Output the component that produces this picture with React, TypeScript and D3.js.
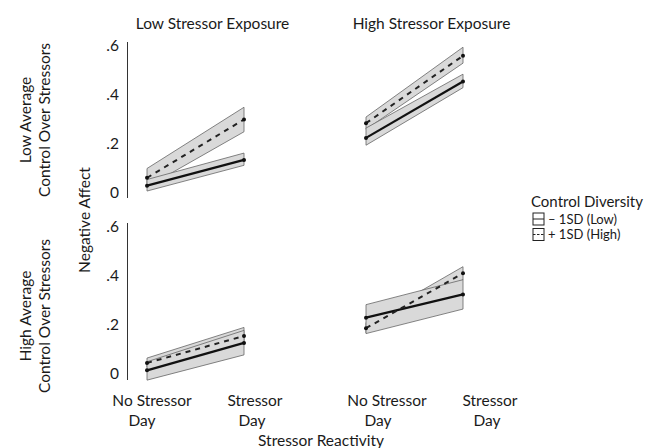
import React from "react";
import * as d3 from "d3";

// ---- data ----
const days = ["No Stressor Day", "Stressor Day"];
const dayLabelLines = [["No Stressor", "Day"], ["Stressor", "Day"]];
const exposures = ["Low Stressor Exposure", "High Stressor Exposure"];
const controlRows = [["Low Average", "Control Over Stressors"], ["High Average", "Control Over Stressors"]];
const yTicks = [0, 0.2, 0.4, 0.6];
const yTickLabels = ["0", ".2", ".4", ".6"];
const seriesNames = ["– 1SD (Low)", "+ 1SD (High)"];

// [row][col] -> values at [No Stressor Day, Stressor Day]
const lowMean = [[[0.03, 0.135], [0.225, 0.455]], [[0.015, 0.127], [0.23, 0.325]]];
const lowLo = [[[0.008, 0.113], [0.195, 0.43]], [[-0.025, 0.078], [0.165, 0.265]]];
const lowHi = [[[0.055, 0.163], [0.265, 0.485]], [[0.05, 0.178], [0.283, 0.385]]];
const highMean = [[[0.062, 0.3], [0.285, 0.56]], [[0.045, 0.155], [0.187, 0.411]]];
const highLo = [[[0.025, 0.25], [0.26, 0.53]], [[0.028, 0.12], [0.167, 0.384]]];
const highHi = [[[0.1, 0.35], [0.31, 0.595]], [[0.065, 0.19], [0.21, 0.438]]];

const FONT = "Lato, 'Open Sans', sans-serif";
const TXT = "#1a1a1a";
const FS = 15.5;

export default function App() {
  const xScales = [
    d3.scalePoint<string>().domain(days).range([147, 244]),
    d3.scalePoint<string>().domain(days).range([366, 463]),
  ];
  const yScales = [
    d3.scaleLinear().domain([0, 0.6]).range([193, 46]),
    d3.scaleLinear().domain([0, 0.6]).range([374, 227]),
  ];
  const axisX = 127.5;
  const axisY = [[42, 198], [223, 380]];
  // label centre offsets from point position, per column/day
  const labelDx = [
    [[5, -5], [11, 8]],
    [[21, 12], [27, 24]],
  ];

  const band = (row: number, col: number, lo: number[][][], hi: number[][][]) => {
    const x = xScales[col];
    const y = yScales[row];
    const area = d3
      .area<number>()
      .x((_, i) => x(days[i]) as number)
      .y0((_, i) => y(lo[row][col][i]))
      .y1((_, i) => y(hi[row][col][i]));
    return area([0, 1]) as string;
  };
  const line = (row: number, col: number, m: number[][][]) => {
    const x = xScales[col];
    const y = yScales[row];
    const l = d3
      .line<number>()
      .x((_, i) => x(days[i]) as number)
      .y((v) => y(v));
    return l(m[row][col]) as string;
  };

  const panels: any[] = [];
  for (let r = 0; r < 2; r++) {
    for (let c = 0; c < 2; c++) {
      const x = xScales[c];
      const y = yScales[r];
      panels.push(
        <g key={`p${r}${c}`}>
          <path d={band(r, c, highLo, highHi)} fill="#d9d9d9" stroke="#666" strokeWidth={0.8} />
          <path d={band(r, c, lowLo, lowHi)} fill="#d9d9d9" stroke="#666" strokeWidth={0.8} />
          <path d={line(r, c, lowMean)} fill="none" stroke="#111" strokeWidth={2.2} />
          <path d={line(r, c, highMean)} fill="none" stroke="#222" strokeWidth={2} strokeDasharray="5,5" />
          {days.map((dd, i) => (
            <g key={dd}>
              <circle cx={x(dd)} cy={y(lowMean[r][c][i])} r={2} fill="#111" />
              <circle cx={x(dd)} cy={y(highMean[r][c][i])} r={2} fill="#111" />
            </g>
          ))}
        </g>
      );
    }
  }

  return (
    <svg
      width={662}
      height={448}
      style={{ position: "absolute", left: 0, top: 0, background: "#fff" }}
      fontFamily={FONT}
    >
      <rect width={662} height={448} fill="#fff" />
      {/* column titles */}
      {exposures.map((t, c) => {
        const x = xScales[c];
        const cx = ((x(days[0]) as number) + (x(days[1]) as number)) / 2 + 17;
        return (
          <text key={t} x={cx} y={29} textAnchor="middle" fontSize={FS} fill={TXT}>
            {t}
          </text>
        );
      })}
      {/* row labels */}
      {controlRows.map((lines, r) => {
        const cy = r === 0 ? 120 : 316;
        return (
          <g key={r}>
            {lines.map((s, k) => (
              <text
                key={s}
                transform={`translate(${k === 0 ? 31 : 50},${cy}) rotate(-90)`}
                textAnchor="middle"
                fontSize={FS}
                fill={TXT}
              >
                {s}
              </text>
            ))}
          </g>
        );
      })}
      {/* y-axis title */}
      <text transform={`translate(90,220) rotate(-90)`} textAnchor="middle" fontSize={FS} fill={TXT}>
        Negative Affect
      </text>
      {/* y axes */}
      {yScales.map((y, r) => (
        <g key={`ax${r}`}>
          <line x1={axisX} x2={axisX} y1={axisY[r][0]} y2={axisY[r][1]} stroke="#333" strokeWidth={1} />
          {yTicks.map((t, i) => (
            <text key={t} x={119} y={y(t) + 5} textAnchor="end" fontSize={FS} fill={TXT}>
              {yTickLabels[i]}
            </text>
          ))}
        </g>
      ))}
      {panels}
      {/* x labels */}
      {xScales.map((x, c) =>
        days.map((dd, i) => (
          <g key={`xl${c}${i}`}>
            <text x={(x(dd) as number) + labelDx[c][i][0]} y={406} textAnchor="middle" fontSize={FS} fill={TXT}>
              {dayLabelLines[i][0]}
            </text>
            <text x={(x(dd) as number) + labelDx[c][i][1]} y={426} textAnchor="middle" fontSize={FS} fill={TXT}>
              {dayLabelLines[i][1]}
            </text>
          </g>
        ))
      )}
      <text x={321} y={446} textAnchor="middle" fontSize={FS} fill={TXT}>
        Stressor Reactivity
      </text>
      {/* legend */}
      <g>
        <text x={531} y={207} fontSize={15} fill={TXT}>
          Control Diversity
        </text>
        {seriesNames.map((s, i) => {
          const by = 213 + i * 15.5;
          return (
            <g key={s}>
              <rect x={533} y={by} width={11} height={12} fill="#fff" stroke="#222" strokeWidth={1} />
              <line
                x1={533}
                x2={544}
                y1={by + 6}
                y2={by + 6}
                stroke="#222"
                strokeWidth={1}
                strokeDasharray={i === 1 ? "2.5,1.5" : undefined}
              />
              <text x={548} y={by + 10.5} fontSize={13} fill={TXT}>
                {s}
              </text>
            </g>
          );
        })}
      </g>
    </svg>
  );
}
